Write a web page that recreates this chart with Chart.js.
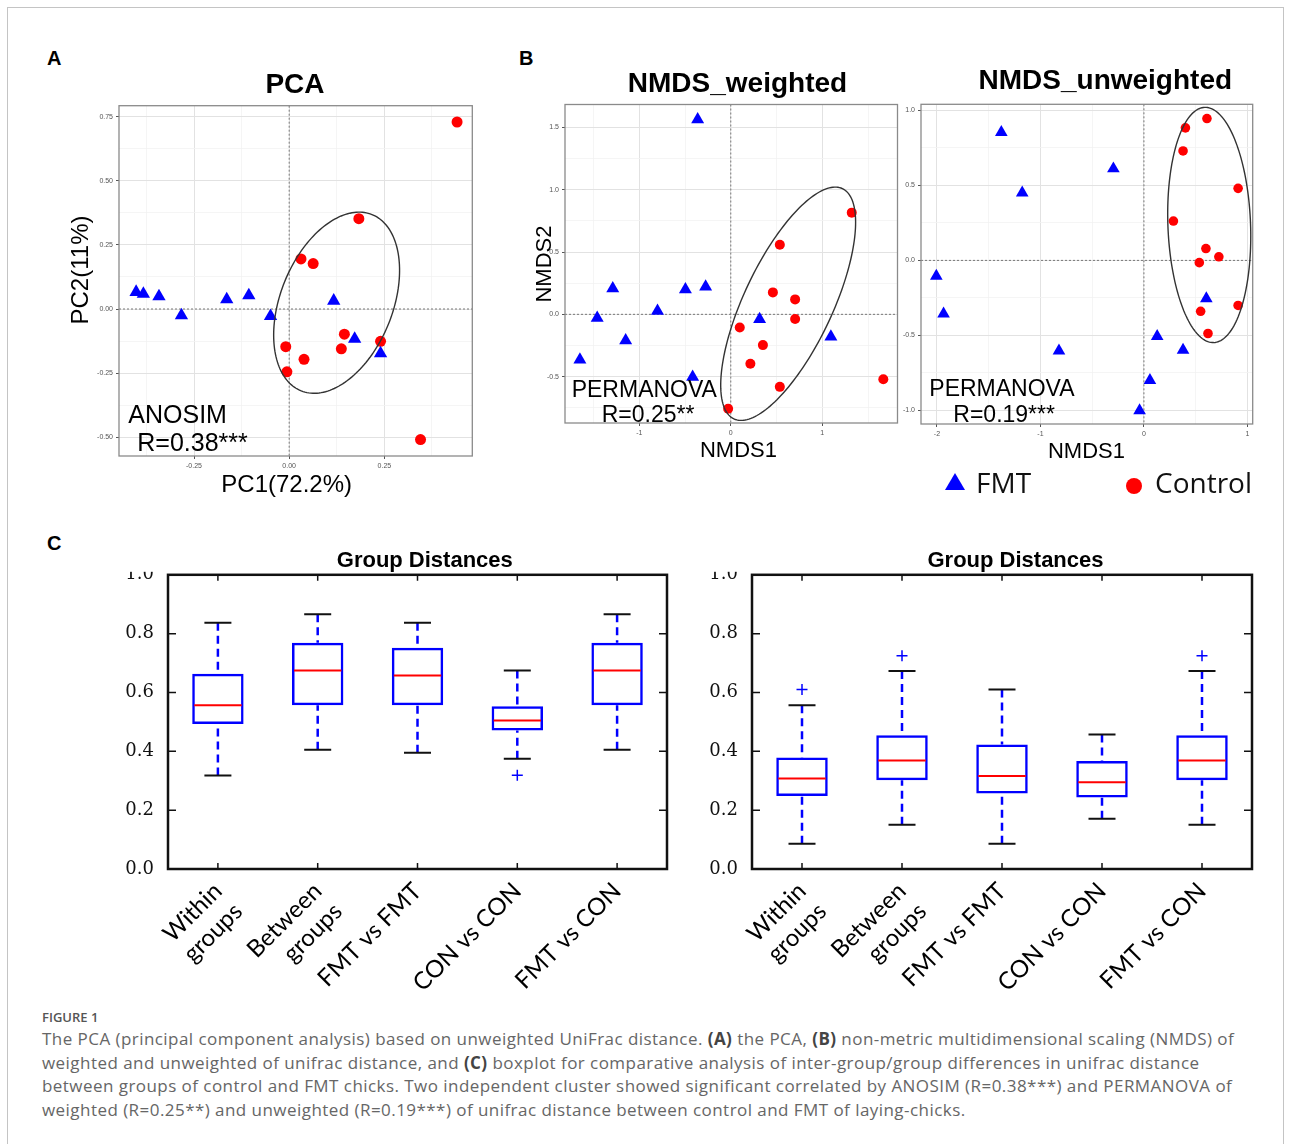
<!DOCTYPE html>
<html>
<head>
<meta charset="utf-8">
<script src="https://cdn.jsdelivr.net/npm/chart.js@4.4.1/dist/chart.umd.min.js"></script>
<style>
  body { margin: 0; background: #fff; }
  #page { position: relative; width: 1293px; height: 1144px; overflow: hidden; font-family: "Liberation Sans", Arial, sans-serif; }
  canvas { position: absolute; }
  .t { position: absolute; white-space: nowrap; color: #000; }
  .ttl { font-weight: bold; font-size: 28px; line-height: 28px; text-align: center; width: 300px; }
  .gd { font-weight: bold; font-size: 22px; line-height: 22px; text-align: center; width: 240px; }
  .ax { font-size: 22px; line-height: 22px; text-align: center; width: 200px; }
  .pn { font-weight: bold; font-size: 20px; line-height: 20px; }
  .stat { font-size: 23px; line-height: 23px; }
  .leg { font-family: "Open Sans", sans-serif; font-size: 28px; line-height: 28px; color: #111; }
  .cap { font-family: "Open Sans", sans-serif; font-size: 17px; line-height: 17px; letter-spacing: 0.45px; color: #666; left: 42px; }
  .cap b { color: #444; }
</style>
</head>
<body>
<div id="page">
  <div style="position:absolute; left:7px; top:7px; width:1275px; height:1200px; border:1px solid #c4c4c4;"></div>

  <div class="t pn" style="left:47px; top:48px;">A</div>
  <div class="t pn" style="left:519px; top:48px;">B</div>
  <div class="t pn" style="left:47px; top:533px;">C</div>

  <canvas id="pca" width="395" height="377" style="left:85px; top:98px;"></canvas>
  <canvas id="nmdsW" width="370" height="345" style="left:535px; top:97px;"></canvas>
  <canvas id="nmdsU" width="365" height="346" style="left:895px; top:97px;"></canvas>
  <canvas id="box1" width="573" height="442" style="left:105px; top:558px;"></canvas>
  <canvas id="box2" width="573" height="442" style="left:690px; top:558px;"></canvas>

  <div class="t ttl" style="left:145px; top:69.6px;">PCA</div>
  <div class="t ttl" style="left:587.5px; top:68.8px;">NMDS_weighted</div>
  <div class="t ttl" style="left:955.3px; top:65.5px;">NMDS_unweighted</div>

  <div class="t ax" style="left:186.7px; top:472px; font-size:24px; line-height:24px;">PC1(72.2%)</div>
  <div class="t ax" style="left:-20.5px; top:258px; font-size:24px; line-height:24px; transform:rotate(-90deg);">PC2(11%)</div>
  <div class="t ax" style="left:444.2px; top:253px; transform:rotate(-90deg);">NMDS2</div>
  <div class="t ax" style="left:638.5px; top:438.5px;">NMDS1</div>
  <div class="t ax" style="left:986.5px; top:440.2px;">NMDS1</div>

  <div class="t stat" style="left:128.3px; top:402.3px; font-size:25px; line-height:25px;">ANOSIM</div>
  <div class="t stat" style="left:137.3px; top:430.3px; font-size:25px; line-height:25px;">R=0.38***</div>
  <div class="t stat" style="left:571.7px; top:377.9px;">PERMANOVA</div>
  <div class="t stat" style="left:601.7px; top:402.9px;">R=0.25**</div>
  <div class="t stat" style="left:929.3px; top:377px;">PERMANOVA</div>
  <div class="t stat" style="left:953.3px; top:403.3px;">R=0.19***</div>

  <div style="position:absolute; left:945px; top:473px; width:0; height:0; border-left:10px solid transparent; border-right:10px solid transparent; border-bottom:17px solid #0000ff;"></div>
  <div class="t leg" style="left:976px; top:468.4px;">FMT</div>
  <div style="position:absolute; left:1126px; top:478px; width:16px; height:16px; border-radius:50%; background:#ff0000;"></div>
  <div class="t leg" style="left:1155px; top:468.4px;">Control</div>

  <div class="t gd" style="left:304.8px; top:549px;">Group Distances</div>
  <div class="t gd" style="left:895.5px; top:549px;">Group Distances</div>

  <div class="t cap" style="top:1011px; font-size:13px; line-height:13px; letter-spacing:0; font-weight:600; color:#555;">FIGURE 1</div>
  <div class="t cap" style="top:1029.9px;">The PCA (principal component analysis) based on unweighted UniFrac distance. <b>(A)</b> the PCA, <b>(B)</b> non-metric multidimensional scaling (NMDS) of</div>
  <div class="t cap" style="top:1053.6px;">weighted and unweighted of unifrac distance, and <b>(C)</b> boxplot for comparative analysis of inter-group/group differences in unifrac distance</div>
  <div class="t cap" style="top:1077.2px;">between groups of control and FMT chicks. Two independent cluster showed significant correlated by ANOSIM (R=0.38***) and PERMANOVA of</div>
  <div class="t cap" style="top:1100.9px;">weighted (R=0.25**) and unweighted (R=0.19***) of unifrac distance between control and FMT of laying-chicks.</div>
</div>

<script>
// ---- PCA (panel A) ----
const pcaFmtX = [-0.402, -0.383, -0.342, -0.283, -0.164, -0.106, -0.049, 0.117, 0.172, 0.240];
const pcaFmtY = [0.066, 0.059, 0.049, -0.025, 0.037, 0.053, -0.028, 0.032, -0.117, -0.173];
const pcaConX = [0.441, 0.183, 0.031, 0.063, 0.145, 0.137, 0.240, -0.009, 0.039, -0.006, 0.345];
const pcaConY = [0.729, 0.352, 0.195, 0.177, -0.098, -0.155, -0.126, -0.147, -0.196, -0.245, -0.509];
const pcaXMajor = [-0.25, 0, 0.25];
const pcaXLabels = ["-0.25", "0.00", "0.25"];
const pcaXMinor = [-0.375, -0.125, 0.125, 0.375];
const pcaYMajor = [-0.5, -0.25, 0, 0.25, 0.5, 0.75];
const pcaYLabels = ["-0.50", "-0.25", "0.00", "0.25", "0.50", "0.75"];
const pcaYMinor = [-0.375, -0.125, 0.125, 0.375, 0.625];
const pcaEllipse = { cx: 0.1246, cy: 0.0245, ux: 0.0929, uy: 0.3437, vx: -0.1368, vy: 0.0809 };

// ---- NMDS weighted (panel B left) ----
const nwFmtX = [-0.362, -1.290, -0.496, -0.275, -0.801, -1.460, -1.149, -1.649, -0.417, 0.315, 1.094];
const nwFmtY = [1.564, 0.208, 0.200, 0.221, 0.027, -0.029, -0.209, -0.364, -0.502, -0.039, -0.180];
const nwConX = [1.322, 0.536, 0.460, 0.703, 0.703, 0.098, 0.351, 0.214, 0.536, -0.029, 1.667];
const nwConY = [0.816, 0.559, 0.176, 0.120, -0.037, -0.106, -0.247, -0.396, -0.582, -0.758, -0.521];
const nwXMajor = [-1, 0, 1];
const nwXLabels = ["-1", "0", "1"];
const nwXMinor = [-1.5, -0.5, 0.5, 1.5];
const nwYMajor = [-0.5, 0, 0.5, 1, 1.5];
const nwYLabels = ["-0.5", "0.0", "0.5", "1.0", "1.5"];
const nwYMinor = [-0.75, -0.25, 0.25, 0.75, 1.25];
const nwEllipse = { cx: 0.627, cy: 0.085, ux: 0.593, uy: 0.924, vx: -0.438, vy: 0.1515 };

// ---- NMDS unweighted (panel B right) ----
const nuFmtX = [-1.378, -0.295, -1.176, -2.006, -1.936, -0.821, 0.128, 0.378, 0.058, -0.042, 0.603];
const nuFmtY = [0.853, 0.611, 0.450, -0.105, -0.356, -0.603, -0.506, -0.598, -0.799, -1.001, -0.254];
const nuConX = [0.609, 0.401, 0.378, 0.910, 0.285, 0.599, 0.724, 0.535, 0.548, 0.910, 0.619];
const nuConY = [0.945, 0.883, 0.729, 0.480, 0.262, 0.079, 0.024, -0.015, -0.339, -0.300, -0.487];
const nuXMajor = [-2, -1, 0, 1];
const nuXLabels = ["-2", "-1", "0", "1"];
const nuXMinor = [-1.5, -0.5, 0.5];
const nuYMajor = [-1, -0.5, 0, 0.5, 1];
const nuYLabels = ["-1.0", "-0.5", "0.0", "0.5", "1.0"];
const nuYMinor = [-0.75, -0.25, 0.25, 0.75];
const nuEllipse = { cx: 0.631, cy: 0.236, ux: -0.0433, uy: 0.7835, vx: 0.399, vy: 0.0104 };

// ---- Group distances (panel C) ----
const groupLabels = [["Within", "groups"], ["Between", "groups"], "FMT vs FMT", "CON vs CON", "FMT vs CON"];
const boxTicks = [0, 0.2, 0.4, 0.6, 0.8, 1.0];
const d1Min = [0.318, 0.405, 0.395, 0.375, 0.405];
const d1Q1  = [0.493, 0.557, 0.557, 0.471, 0.557];
const d1Med = [0.557, 0.675, 0.658, 0.505, 0.675];
const d1Q3  = [0.664, 0.769, 0.752, 0.553, 0.769];
const d1Max = [0.837, 0.866, 0.837, 0.675, 0.866];
const d1Out = [null, null, null, 0.319, null];
const d2Min = [0.086, 0.150, 0.086, 0.171, 0.150];
const d2Q1  = [0.248, 0.302, 0.257, 0.243, 0.302];
const d2Med = [0.308, 0.369, 0.316, 0.295, 0.369];
const d2Q3  = [0.379, 0.455, 0.423, 0.367, 0.455];
const d2Max = [0.557, 0.673, 0.610, 0.457, 0.673];
const d2Out = [0.610, 0.725, null, null, 0.725];

Chart.defaults.font.family = '"Liberation Sans", Arial, sans-serif';
Chart.defaults.animation = false;

const near = (list, v) => list.findIndex(m => Math.abs(m - v) < 1e-9);
const toPts = (xs, ys) => xs.map((x, i) => ({ x: x, y: ys[i] }));

function ordAxis(min, max, major, labels, minor, fit) {
  const isMaj = c => c.tick && near(major, c.tick.value) >= 0;
  return {
    type: 'linear', min: min, max: max,
    afterBuildTicks: s => { s.ticks = major.concat(minor).sort((a, b) => a - b).map(v => ({ value: v })); },
    afterFit: fit,
    border: { display: false },
    grid: {
      color: c => isMaj(c) ? '#e2e2e2' : '#f2f2f2',
      lineWidth: c => isMaj(c) ? 1 : 0.8,
      tickColor: c => isMaj(c) ? '#555' : 'rgba(0,0,0,0)',
      tickLength: 3
    },
    ticks: {
      autoSkip: false, maxRotation: 0, minRotation: 0,
      font: { size: 7 }, color: '#555',
      callback: v => { const i = near(major, v); return i < 0 ? '' : labels[i]; }
    }
  };
}

// zero lines, ellipse and panel frame
function ordPlugin(ell) {
  return {
    id: 'ord',
    beforeDatasetsDraw(chart) {
      const { ctx, chartArea: a, scales: { x, y } } = chart;
      ctx.save();
      ctx.strokeStyle = '#777';
      ctx.lineWidth = 1;
      ctx.setLineDash([2, 2]);
      const x0 = x.getPixelForValue(0), y0 = y.getPixelForValue(0);
      ctx.beginPath();
      ctx.moveTo(x0, a.top); ctx.lineTo(x0, a.bottom);
      ctx.moveTo(a.left, y0); ctx.lineTo(a.right, y0);
      ctx.stroke();
      ctx.restore();
    },
    afterDatasetsDraw(chart) {
      const { ctx, chartArea: a, scales: { x, y } } = chart;
      ctx.save();
      ctx.strokeStyle = '#333';
      ctx.lineWidth = 1.4;
      ctx.beginPath();
      for (let k = 0; k <= 180; k++) {
        const t = k / 180 * Math.PI * 2;
        const px = x.getPixelForValue(ell.cx + Math.cos(t) * ell.ux + Math.sin(t) * ell.vx);
        const py = y.getPixelForValue(ell.cy + Math.cos(t) * ell.uy + Math.sin(t) * ell.vy);
        if (k === 0) ctx.moveTo(px, py); else ctx.lineTo(px, py);
      }
      ctx.closePath();
      ctx.stroke();
      ctx.strokeStyle = '#8a8a8a';
      ctx.lineWidth = 1.3;
      ctx.strokeRect(a.left, a.top, a.right - a.left, a.bottom - a.top);
      ctx.restore();
    }
  };
}

function ordChart(id, cfg) {
  return new Chart(document.getElementById(id), {
    type: 'scatter',
    data: {
      datasets: [
        { label: 'FMT', data: toPts(cfg.fx, cfg.fy), pointStyle: 'triangle', pointRadius: cfg.tri,
          backgroundColor: '#0000ff', borderColor: '#0000ff', borderWidth: 0 },
        { label: 'Control', data: toPts(cfg.cx, cfg.cy), pointStyle: 'circle', pointRadius: cfg.dot,
          backgroundColor: '#ff0000', borderColor: '#ff0000', borderWidth: 0 }
      ]
    },
    options: {
      responsive: false, devicePixelRatio: 1,
      layout: { padding: { left: 0, top: 5, right: 6, bottom: 0 } },
      plugins: { legend: { display: false }, tooltip: { enabled: false } },
      scales: {
        x: ordAxis(cfg.xr[0], cfg.xr[1], cfg.xMaj, cfg.xLab, cfg.xMin, s => { s.height = 19; }),
        y: ordAxis(cfg.yr[0], cfg.yr[1], cfg.yMaj, cfg.yLab, cfg.yMin, s => { s.width = cfg.yw; })
      }
    },
    plugins: [ordPlugin(cfg.ell)]
  });
}

const pcaChart = ordChart('pca', {
  fx: pcaFmtX, fy: pcaFmtY, cx: pcaConX, cy: pcaConY, tri: 7.7, dot: 5.5,
  xr: [-0.447, 0.481], xMaj: pcaXMajor, xLab: pcaXLabels, xMin: pcaXMinor,
  yr: [-0.573, 0.7925], yMaj: pcaYMajor, yLab: pcaYLabels, yMin: pcaYMinor,
  yw: 34, ell: pcaEllipse
});
const nwChart = ordChart('nmdsW', {
  fx: nwFmtX, fy: nwFmtY, cx: nwConX, cy: nwConY, tri: 7.5, dot: 5,
  xr: [-1.812, 1.822], xMaj: nwXMajor, xLab: nwXLabels, xMin: nwXMinor,
  yr: [-0.872, 1.684], yMaj: nwYMajor, yLab: nwYLabels, yMin: nwYMinor,
  yw: 30, ell: nwEllipse
});
const nuChart = ordChart('nmdsU', {
  fx: nuFmtX, fy: nuFmtY, cx: nuConX, cy: nuConY, tri: 7.3, dot: 4.8,
  xr: [-2.154, 1.051], xMaj: nuXMajor, xLab: nuXLabels, xMin: nuXMinor,
  yr: [-1.090, 1.040], yMaj: nuYMajor, yLab: nuYLabels, yMin: nuYMinor,
  yw: 26, ell: nuEllipse
});

// whiskers, caps, medians, frame and inner ticks for the box plots
function boxPlugin(st) {
  return {
    id: 'boxparts',
    beforeDatasetsDraw(chart) {
      const { ctx, scales: { y } } = chart;
      const bars = chart.getDatasetMeta(0).data;
      ctx.save();
      bars.forEach((b, i) => {
        ctx.strokeStyle = '#0000ff'; ctx.lineWidth = 2.5; ctx.setLineDash([8, 5]);
        ctx.beginPath();
        ctx.moveTo(b.x, y.getPixelForValue(st.max[i])); ctx.lineTo(b.x, y.getPixelForValue(st.q3[i]));
        ctx.moveTo(b.x, y.getPixelForValue(st.min[i])); ctx.lineTo(b.x, y.getPixelForValue(st.q1[i]));
        ctx.stroke();
        ctx.setLineDash([]); ctx.strokeStyle = '#111'; ctx.lineWidth = 2;
        ctx.beginPath();
        [st.max[i], st.min[i]].forEach(v => {
          const py = y.getPixelForValue(v);
          ctx.moveTo(b.x - 13.5, py); ctx.lineTo(b.x + 13.5, py);
        });
        ctx.stroke();
      });
      ctx.restore();
    },
    afterDatasetsDraw(chart) {
      const { ctx, scales: { y } } = chart;
      const bars = chart.getDatasetMeta(0).data;
      ctx.save();
      ctx.strokeStyle = '#ff0000'; ctx.lineWidth = 2;
      bars.forEach((b, i) => {
        const py = y.getPixelForValue(st.med[i]);
        ctx.beginPath();
        ctx.moveTo(b.x - b.width / 2 + 2, py); ctx.lineTo(b.x + b.width / 2 - 2, py);
        ctx.stroke();
      });
      ctx.restore();
    },
    afterDraw(chart) {
      const { ctx, chartArea: a, scales: { x, y } } = chart;
      ctx.save();
      ctx.fillStyle = '#fff';
      ctx.fillRect(0, 0, a.left - 3, a.top - 3);
      ctx.strokeStyle = '#111'; ctx.lineWidth = 1.5;
      ctx.beginPath();
      boxTicks.forEach(v => {
        const py = y.getPixelForValue(v);
        ctx.moveTo(a.left, py); ctx.lineTo(a.left + 8, py);
        ctx.moveTo(a.right, py); ctx.lineTo(a.right - 8, py);
      });
      groupLabels.forEach((g, i) => {
        const px = x.getPixelForValue(i);
        ctx.moveTo(px, a.bottom); ctx.lineTo(px, a.bottom - 6);
        ctx.moveTo(px, a.top); ctx.lineTo(px, a.top + 6);
      });
      ctx.stroke();
      ctx.lineWidth = 2.5;
      ctx.strokeRect(a.left, a.top, a.right - a.left, a.bottom - a.top);
      ctx.restore();
    }
  };
}

function boxChart(id, st, yw, padTop) {
  return new Chart(document.getElementById(id), {
    type: 'bar',
    data: {
      labels: groupLabels,
      datasets: [
        { data: st.q1.map((q, i) => [q, st.q3[i]]), backgroundColor: 'rgba(0,0,0,0)',
          borderColor: '#0000ff', borderWidth: 2.5, borderSkipped: false,
          barPercentage: 0.515, categoryPercentage: 1 },
        { type: 'line', data: st.out, showLine: false, pointStyle: 'cross', pointRadius: 5.5,
          borderColor: '#0000ff', borderWidth: 1.5 }
      ]
    },
    options: {
      responsive: false, devicePixelRatio: 1,
      layout: { padding: { left: 0, top: padTop, right: 11, bottom: 0 } },
      plugins: { legend: { display: false }, tooltip: { enabled: false } },
      scales: {
        x: {
          grid: { display: false }, border: { display: false },
          afterFit: s => { s.height = 131; },
          ticks: { autoSkip: false, maxRotation: 45, minRotation: 45, padding: 0, color: '#000',
            font: { family: 'Lato, "Open Sans", sans-serif', size: 24 } }
        },
        y: {
          min: 0, max: 1,
          grid: { display: false }, border: { display: false },
          afterFit: s => { s.width = yw; },
          afterBuildTicks: s => { s.ticks = boxTicks.map(v => ({ value: v })); },
          ticks: { padding: 6, color: '#111', font: { family: '"DejaVu Serif", serif', size: 18 },
            callback: v => v.toFixed(1) }
        }
      }
    },
    plugins: [boxPlugin(st)]
  });
}

const box1 = boxChart('box1', { min: d1Min, q1: d1Q1, med: d1Med, q3: d1Q3, max: d1Max, out: d1Out }, 63, 13);
const box2 = boxChart('box2', { min: d2Min, q1: d2Q1, med: d2Med, q3: d2Q3, max: d2Max, out: d2Out }, 62, 14.5);
</script>
</body>
</html>
